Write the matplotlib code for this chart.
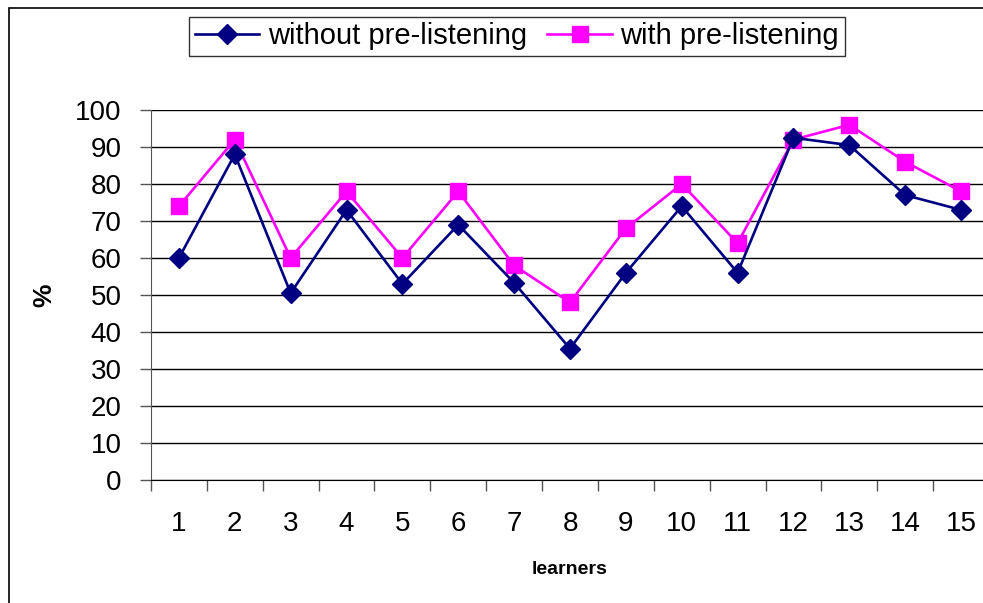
import matplotlib.pyplot as plt
import numpy as np
from matplotlib.patches import Rectangle

plt.rcParams['font.family'] = ['Liberation Sans', 'DejaVu Sans']

# learners 1..15, scores in %
learners = list(range(1, 16))
without_pre = [60, 88, 50.5, 73, 53, 69, 53.3, 35.5, 56, 74, 56, 92.5, 90.5, 77, 73]
with_pre = [74, 92, 60, 78, 60, 78, 58, 48, 68, 80, 64, 92, 96, 86, 78]
y_ticks = list(range(0, 101, 10))

W, H = 983, 603
fig = plt.figure(figsize=(W / 100, H / 100), dpi=100)

# rahmen um das ganze diagramm (excel-stil)
fig.patches.append(Rectangle((8.5 / W, -0.01), 1.0, 1 - 8 / H + 0.01,
                             transform=fig.transFigure, fill=False,
                             edgecolor='black', linewidth=1.2))

ax = fig.add_axes([151 / W, (H - 480) / H, 838 / W, 370 / H])

ax.plot(learners, without_pre, color='#000080', marker='D', markersize=10,
        linewidth=1.9, label='without pre-listening', clip_on=False, zorder=3)
ax.plot(learners, with_pre, color='#FF00FF', marker='s', markersize=11,
        linewidth=1.9, label='with pre-listening', clip_on=False, zorder=2)

ax.set_xlim(0.5, 15.5)
ax.set_ylim(0, 100)

# y-achse
ax.set_yticks(y_ticks)
ax.yaxis.grid(True, color='black', linewidth=1)
ax.set_axisbelow(True)
ax.tick_params(axis='y', direction='out', length=8, width=1, pad=13,
               labelsize=20, color='#555555')

# x-achse: striche zwischen den kategorien, beschriftung in der mitte
ax.set_xticks(np.arange(0.5, 16, 1))
ax.set_xticklabels([])
ax.set_xticks(learners, minor=True)
ax.set_xticklabels([str(v) for v in learners], minor=True)
ax.tick_params(axis='x', which='major', direction='out', length=8, width=1,
               color='#555555')
ax.tick_params(axis='x', which='minor', length=0, pad=22, labelsize=20)

for s in ['top', 'right']:
    ax.spines[s].set_visible(False)
ax.spines['left'].set_color('#555555')
ax.spines['bottom'].set_color('black')

fig.text(44 / W, 1 - 295 / H, '%', rotation=90, fontsize=19,
         fontweight='bold', ha='center', va='center')
fig.text(570 / W, 1 - 570 / H, 'learners', fontsize=14,
         fontweight='bold', ha='center', va='center')

leg = fig.legend(loc='center', bbox_to_anchor=(517 / W, 1 - 36.5 / H),
                 ncol=2, fontsize=21, frameon=True, fancybox=False,
                 handlelength=2.2, handletextpad=0.3, columnspacing=0.7,
                 borderpad=0.2, borderaxespad=0)
leg.get_frame().set_edgecolor('black')
leg.get_frame().set_linewidth(1)

fig.savefig('out.png', dpi=100)
